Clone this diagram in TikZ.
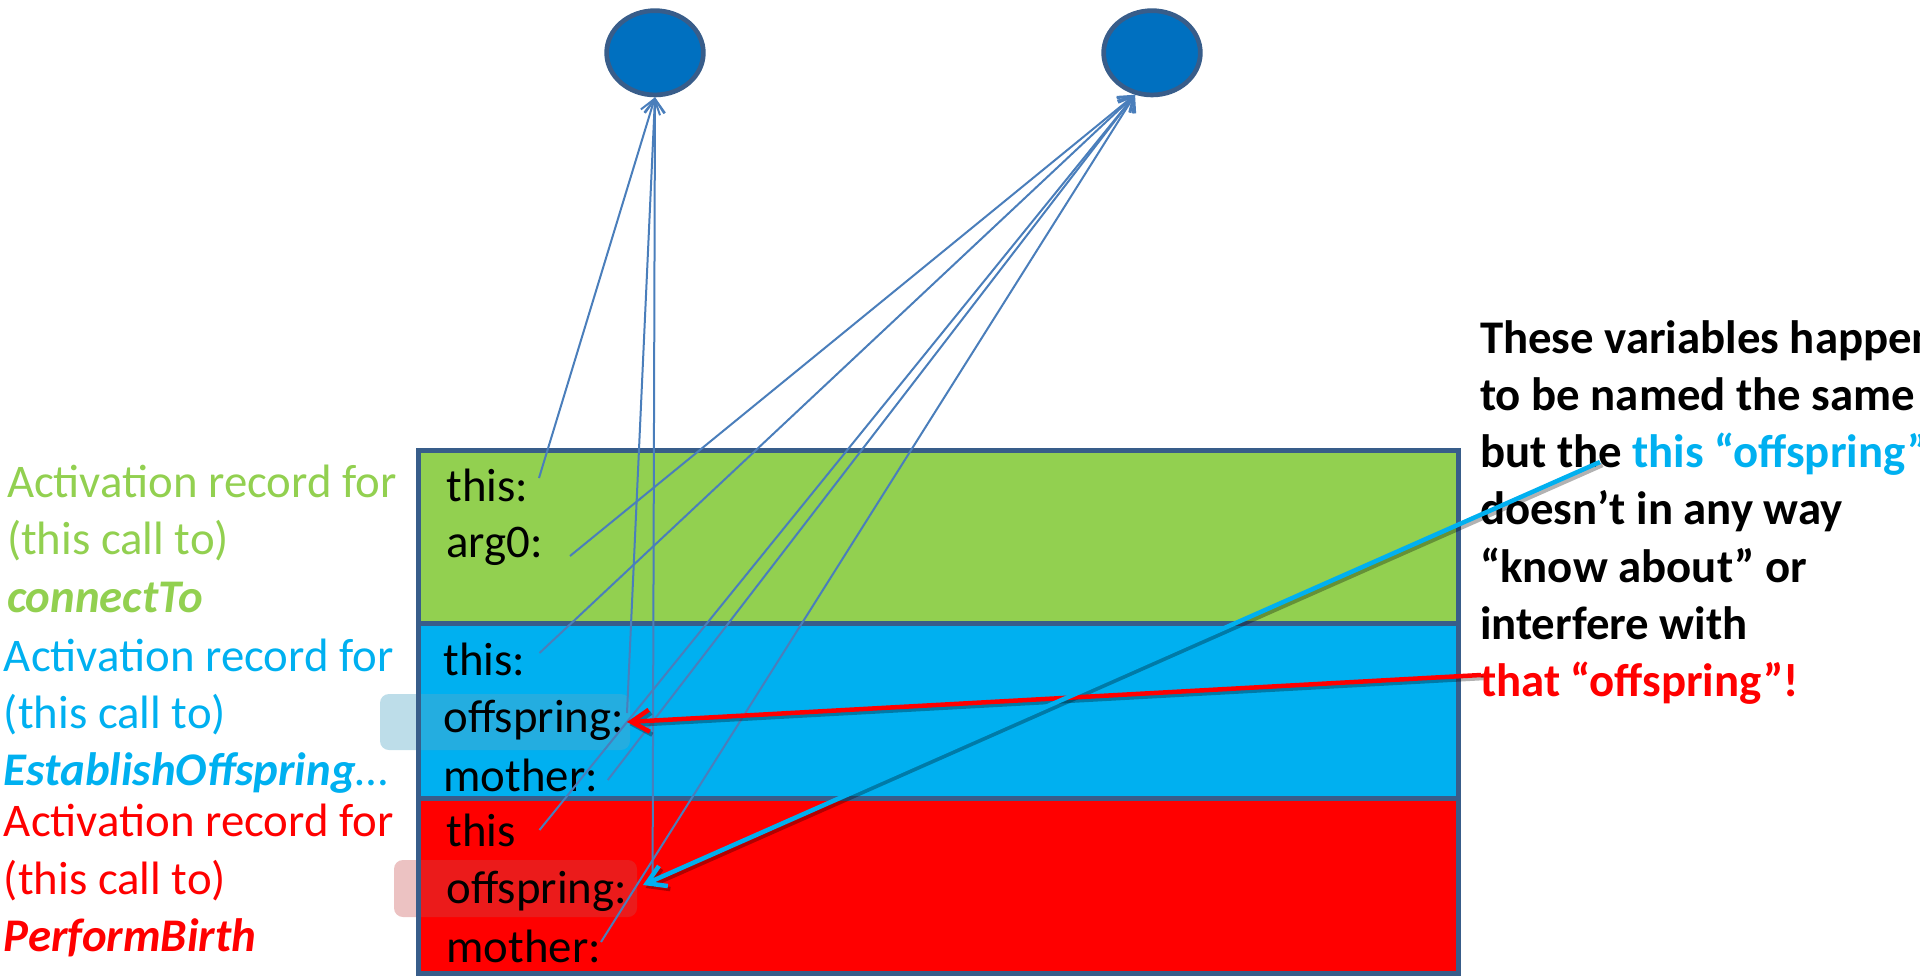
\documentclass[tikz,border=0pt]{standalone}
\usepackage{fontspec}
\setmainfont{Carlito}
\usetikzlibrary{shapes.geometric,arrows.meta}

\definecolor{grn}{HTML}{92D050}
\definecolor{cyn}{HTML}{00B0F0}
\definecolor{rd}{HTML}{FF0000}
\definecolor{edgeblue}{HTML}{385D8A}
\definecolor{objblue}{HTML}{0070C0}
\definecolor{linkblue}{HTML}{4A7EBB}
\definecolor{glowblue}{HTML}{5AA9C8}
\definecolor{glowred}{HTML}{C85050}

\begin{document}
\begin{tikzpicture}[x=1pt,y=-1pt,
  txt/.style={anchor=base west, inner sep=0pt, outer sep=0pt,
              font=\fontsize{46.8}{57}\selectfont},
  vartxt/.style={txt, text=black},
  notetxt/.style={txt, font=\fontsize{46.8}{57}\selectfont\bfseries},
  objnode/.style={ellipse, draw=edgeblue, line width=4.7pt, fill=objblue,
                  inner sep=0pt, minimum width=96.7pt, minimum height=84.3pt},
  recline/.style={draw=edgeblue, line width=5pt},
  reflink/.style={draw=linkblue, line width=2pt,
                  -{Straight Barb[length=14pt,width=20pt]}},
  callout/.style={line width=4.5pt, -{Straight Barb[length=18pt,width=22pt]}},
  calloutshadow/.style={callout, draw=black, draw opacity=0.3,
                        transform canvas={shift={(2.5pt,-3pt)}}},
  glowbox/.style={rounded corners=9pt}
]
\useasboundingbox (0,0) rectangle (1920,975);

% stacked activation records
\fill[grn] (418.5,450.5) rectangle (1458,623);
\fill[cyn] (418.5,623) rectangle (1458,798);
\fill[rd]  (418.5,798) rectangle (1458,973);

% highlight behind the two "offspring" slots
\fill[glowbox, glowblue, fill opacity=0.4] (380,694) rectangle (630,750);
\fill[glowbox, glowred, fill opacity=0.35] (394,860) rectangle (637,917);

\draw[recline] (418.5,450.5) rectangle (1458,623);
\draw[recline] (418.5,623) rectangle (1458,798);
\draw[recline] (418.5,798) rectangle (1458,973);

% heap objects
\node[objnode] (e1) at (655,52.8) {};
\node[objnode] (e2) at (1152,52.8) {};

% captions of the records
\node[txt, text=grn] (g1) at (7,497.5) {Activation record for};
\node[txt, text=grn] (g2) at (7,554.5) {(this call to)};
\node[txt, text=grn] (g3) at (7,612) {\bfseries\itshape connectTo};
\node[txt, text=cyn] (b1) at (4,671) {Activation record for};
\node[txt, text=cyn] (b2) at (4,728.5) {(this call to)};
\node[txt, text=cyn] (b3) at (4,785.5) {{\bfseries\itshape EstablishOffspring}…};
\node[txt, text=rd] (r1) at (4,836) {Activation record for};
\node[txt, text=rd] (r2) at (4,894) {(this call to)};
\node[txt, text=rd] (r3) at (4,951) {\bfseries\itshape PerformBirth};

% variables in the records
\node[vartxt] (v1) at (446.5,501) {this:};
\node[vartxt] (v2) at (446.5,557.5) {arg0:};
\node[vartxt] (v3) at (443.5,675) {this:};
\node[vartxt] (v4) at (443.5,732) {offspring:};
\node[vartxt] (v5) at (443.5,791) {mother:};
\node[vartxt] (v6) at (446.5,846) {this};
\node[vartxt] (v7) at (446.5,903) {offspring:};
\node[vartxt] (v8) at (446.5,962) {mother:};

% explanatory note
\node[notetxt] (n1) at (1480,353) {These variables happen};
\node[notetxt] (n2) at (1480,410.3) {to be named the same};
\node[notetxt] (n3) at (1480,467.6) {but the \textcolor{cyn}{this “offspring”}};
\node[notetxt] (n4) at (1480,524.9) {doesn’t in any way};
\node[notetxt] (n5) at (1480,582.2) {“know about” or};
\node[notetxt] (n6) at (1480,639.5) {interfere with};
\node[notetxt, text=rd] (n7) at (1480,696.8) {that “offspring”!};

% reference slots
\coordinate (gthis) at (539,478);
\coordinate (garg)  at (570,556);
\coordinate (bthis) at (539.5,653);
\coordinate (boff)  at (627,713);
\coordinate (bmoth) at (607.8,780);
\coordinate (rthis) at (539.5,830);
\coordinate (roff)  at (652.6,873);
\coordinate (rmoth) at (601,942);

% references to the first object
\draw[reflink] (gthis) -- (e1.south);
\draw[reflink] (boff)  -- (e1.south);
\draw[reflink] (roff)  -- (e1.south);

% references to the second object
\draw[reflink] (garg)  -- (e2.248);
\draw[reflink] (bthis) -- (e2.248);
\draw[reflink] (bmoth) -- (e2.248);
\draw[reflink] (rthis) -- (e2.248);
\draw[reflink] (rmoth) -- (e2.248);

% callout arrows from the note
\coordinate (thatpt) at (1481,675);
\coordinate (thispt) at (1600,462);
\coordinate (bofftip) at (627,722);
\coordinate (rofftip) at (643,885);

\draw[calloutshadow] (thatpt) -- (bofftip);
\draw[calloutshadow] (thispt) -- (rofftip);
\draw[callout, draw=rd]  (thatpt) -- (bofftip);
\draw[callout, draw=cyn] (thispt) -- (rofftip);
\end{tikzpicture}
\end{document}
